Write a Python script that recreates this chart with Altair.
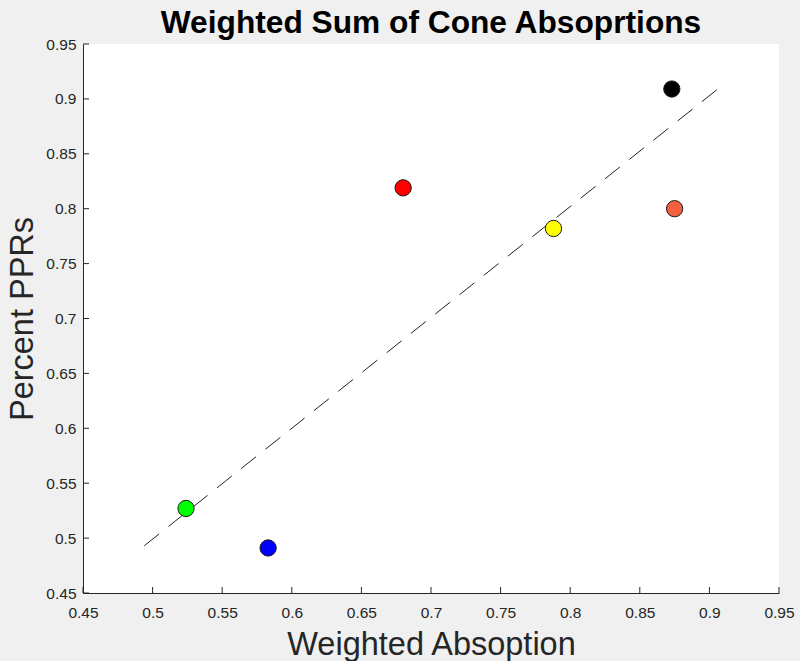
import altair as alt
import pandas as pd

# Measured points: weighted cone absorption vs. percent PPRs
absorption = [0.524, 0.583, 0.680, 0.788, 0.873, 0.875]
percent_pprs = [0.527, 0.491, 0.819, 0.782, 0.909, 0.800]
fill_colors = ["#00ff00", "#0000ff", "#ff0000", "#ffff00", "#000000", "#f5603f"]

# Dashed reference line endpoints
ref_x = [0.494, 0.907]
ref_y = [0.493, 0.910]

tick_values = [0.45, 0.5, 0.55, 0.6, 0.65, 0.7, 0.75, 0.8, 0.85, 0.9, 0.95]

W, H = 696, 549
FONT = "Liberation Sans"
AXIS_COLOR = "#262626"

pts = pd.DataFrame({"x": absorption, "y": percent_pprs, "c": fill_colors})
ref = pd.DataFrame({"x": ref_x, "y": ref_y})
ticks = pd.DataFrame({"v": tick_values})

xscale = alt.Scale(domain=[0.45, 0.95], nice=False, zero=False)
yscale = alt.Scale(domain=[0.45, 0.95], nice=False, zero=False)

xaxis = alt.Axis(
    title="Weighted Absoption", values=tick_values, format=".2~f",
    tickSize=0, grid=False, domainColor=AXIS_COLOR, domainWidth=1,
    labelFont=FONT, labelFontSize=15.5, labelColor=AXIS_COLOR, labelPadding=12,
    titleFont=FONT, titleFontSize=32.5, titleFontWeight="normal", titleColor=AXIS_COLOR,
    titlePadding=8, labelFlush=False,
)
yaxis = alt.Axis(
    title="Percent PPRs", values=tick_values, format=".2~f",
    tickSize=0, grid=False, domainColor=AXIS_COLOR, domainWidth=1,
    labelFont=FONT, labelFontSize=15.5, labelColor=AXIS_COLOR, labelPadding=7,
    titleFont=FONT, titleFontSize=32.5, titleFontWeight="normal", titleColor=AXIS_COLOR,
    titlePadding=6, labelFlush=False,
)

line = alt.Chart(ref).mark_line(
    color="#222222", strokeWidth=1, strokeDash=[19, 12]
).encode(
    x=alt.X("x:Q", scale=xscale, axis=xaxis),
    y=alt.Y("y:Q", scale=yscale, axis=yaxis),
)

# Inward-pointing tick marks on the bottom and left axes
xticks = alt.Chart(ticks).mark_rule(color=AXIS_COLOR, strokeWidth=1).encode(
    x=alt.X("v:Q", scale=xscale),
    y=alt.value(H), y2=alt.value(H - 6),
)
yticks = alt.Chart(ticks).mark_rule(color=AXIS_COLOR, strokeWidth=1).encode(
    y=alt.Y("v:Q", scale=yscale),
    x=alt.value(0), x2=alt.value(6),
)

points = alt.Chart(pts).mark_point(
    shape="circle", filled=True, size=265, stroke="#1a1a1a", strokeWidth=1, opacity=1
).encode(
    x=alt.X("x:Q", scale=xscale),
    y=alt.Y("y:Q", scale=yscale),
    fill=alt.Fill("c:N", scale=None),
)

chart = alt.layer(line, xticks, yticks, points).properties(
    width=W, height=H,
    title=alt.TitleParams(
        "Weighted Sum of Cone Absoprtions", font=FONT, fontSize=31.7,
        fontWeight="bold", color="black", anchor="middle", offset=10, dy=13,
    ),
    autosize=alt.AutoSizeParams(type="none"),
    padding={"left": 83, "top": 44, "right": 21, "bottom": 68},
    background="#f0f0f0",
).configure_view(
    fill="white", stroke=None,
)

chart.save("out.html", embed_options={"renderer": "svg", "actions": False})
